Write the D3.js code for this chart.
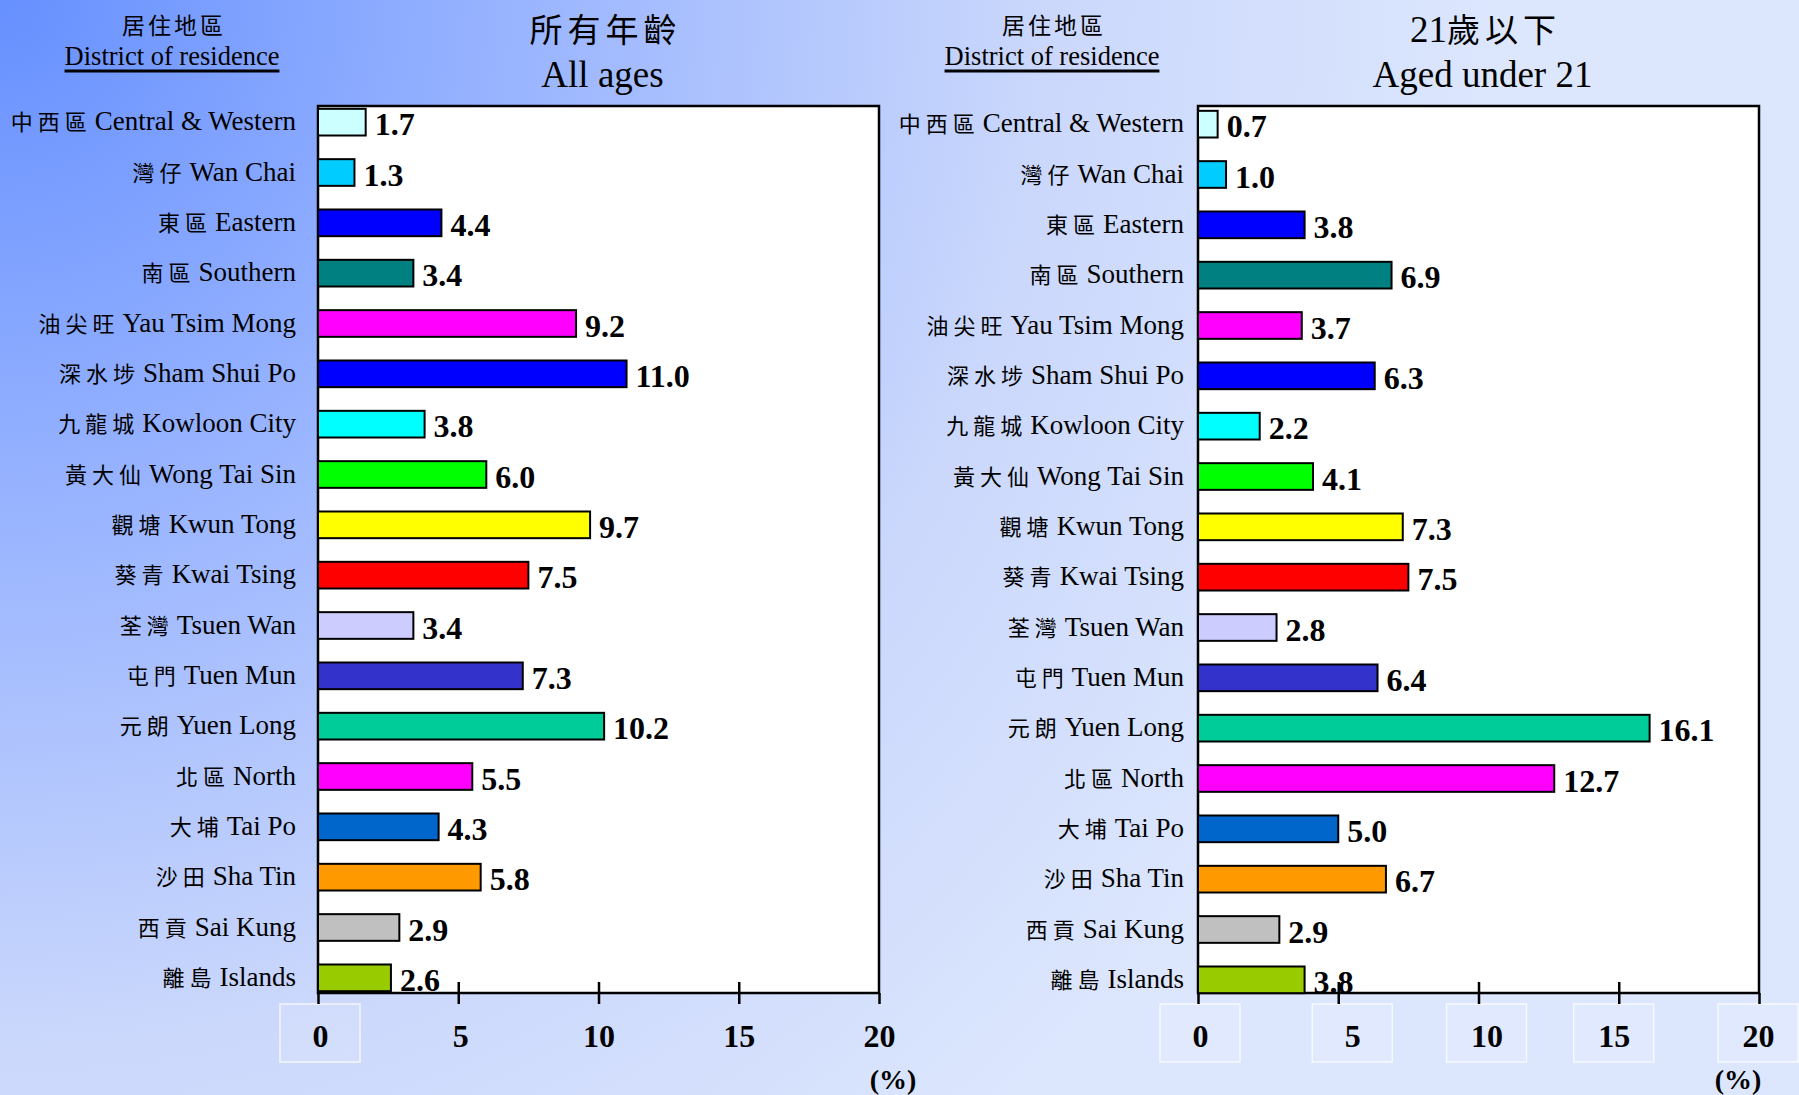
<!DOCTYPE html>
<html>
<head>
<meta charset="utf-8">
<script src="https://cdn.jsdelivr.net/npm/d3@7"></script>
<style>
  body { margin: 0; }
  svg { display: block; }
  .serif { font-family: "Liberation Serif", "Times New Roman", serif; }
</style>
</head>
<body>
<script>
// district names (Chinese / English)
const districtsZh = ["中西區", "灣仔", "東區", "南區", "油尖旺", "深水埗", "九龍城", "黃大仙", "觀塘",
                     "葵青", "荃灣", "屯門", "元朗", "北區", "大埔", "沙田", "西貢", "離島"];
const districtsEn = ["Central & Western", "Wan Chai", "Eastern", "Southern", "Yau Tsim Mong", "Sham Shui Po",
                     "Kowloon City", "Wong Tai Sin", "Kwun Tong", "Kwai Tsing", "Tsuen Wan", "Tuen Mun",
                     "Yuen Long", "North", "Tai Po", "Sha Tin", "Sai Kung", "Islands"];
const barColors = ["#ccffff", "#00ccff", "#0000ff", "#008080", "#ff00ff", "#0000ff", "#00ffff", "#00ff00", "#ffff00",
                   "#ff0000", "#ccccff", "#3333cc", "#00cc99", "#ff00ff", "#0066cc", "#ff9900", "#c0c0c0", "#99cc00"];

// percentage shares
const allAges =  [1.7, 1.3, 4.4, 3.4, 9.2, 11.0, 3.8, 6.0, 9.7, 7.5, 3.4, 7.3, 10.2, 5.5, 4.3, 5.8, 2.9, 2.6];
const under21 =  [0.7, 1.0, 3.8, 6.9, 3.7, 6.3, 2.2, 4.1, 7.3, 7.5, 2.8, 6.4, 16.1, 12.7, 5.0, 6.7, 2.9, 3.8];

const xTicks = [0, 5, 10, 15, 20];
const headerZh = "居住地區", headerEn = "District of residence";

const W = 1799, H = 1095;
const svg = d3.select("body").append("svg").attr("width", W).attr("height", H);

// background gradient
const defs = svg.append("defs");
const grad = defs.append("radialGradient").attr("id", "bg")
    .attr("gradientUnits", "userSpaceOnUse")
    .attr("cx", 0).attr("cy", 0).attr("r", 1500);
grad.append("stop").attr("offset", 0).attr("stop-color", "#6690ff");
grad.append("stop").attr("offset", 0.35).attr("stop-color", "#9ab5ff");
grad.append("stop").attr("offset", 0.7).attr("stop-color", "#cbd8fc");
grad.append("stop").attr("offset", 1).attr("stop-color", "#dce6fd");
svg.append("rect").attr("width", W).attr("height", H).attr("fill", "url(#bg)");

const data = districtsEn.map((en, i) => ({ en, zh: districtsZh[i], color: barColors[i] }));

function panel(opts) {
  const x = d3.scaleLinear().domain([0, 20]).range([opts.x0, opts.x1]);
  const y = d3.scaleBand().domain(districtsEn)
      .range([97 + opts.dy, 1003 + opts.dy]).paddingInner(0.47).paddingOuter(0.235);
  const top = 106, bottom = 993;
  const g = svg.append("g");

  // headers
  const hx = opts.headerX;
  g.append("text").attr("x", hx + 2).attr("y", 34).attr("text-anchor", "middle")
    .style("font-family", "Noto Sans CJK TC").style("font-size", "23px").style("letter-spacing", "3px")
    .text(headerZh);
  const en = g.append("text").attr("class", "serif").attr("x", hx).attr("y", 65).attr("text-anchor", "middle")
    .style("font-size", "26.5px").text(headerEn);
  const bb = en.node().getBBox();
  g.append("line").attr("x1", bb.x).attr("x2", bb.x + bb.width).attr("y1", 71).attr("y2", 71)
    .attr("stroke", "#000").attr("stroke-width", 3);

  const tx = (opts.x0 + opts.x1) / 2 + opts.titleShift;
  const t1 = g.append("text").attr("x", tx + 3).attr("y", 42).attr("text-anchor", "middle")
    .style("font-family", "Noto Sans CJK TC").style("font-size", "33px").style("letter-spacing", "5px");
  t1.append("tspan").attr("class", "serif").style("font-size", "37px").style("letter-spacing", "0px")
    .text(opts.titlePre);
  t1.append("tspan").text(opts.titleZh);
  g.append("text").attr("class", "serif").attr("x", tx).attr("y", 87).attr("text-anchor", "middle")
    .style("font-size", "37px").text(opts.titleEn);

  // plot box
  g.append("rect").attr("x", x(0)).attr("y", top).attr("width", x(20) - x(0)).attr("height", bottom - top)
    .attr("fill", "#fff").attr("stroke", "#000").attr("stroke-width", 2.5);

  // category labels
  const lab = g.selectAll(".cat").data(data).join("text")
    .attr("class", "serif cat")
    .attr("x", x(0) - opts.labelGap)
    .attr("y", d => y(d.en) + y.bandwidth() / 2 + 8)
    .attr("text-anchor", "end")
    .style("font-size", "27px");
  lab.append("tspan").style("font-family", "Noto Sans CJK TC").style("font-size", "22px")
    .style("letter-spacing", "5px").text(d => d.zh);
  lab.append("tspan").attr("dx", 3).text(d => d.en);

  // bars
  g.selectAll(".bar").data(data).join("rect")
    .attr("class", "bar")
    .attr("x", x(0))
    .attr("y", d => y(d.en))
    .attr("width", (d, i) => x(opts.values[i]) - x(0))
    .attr("height", y.bandwidth())
    .attr("fill", d => d.color)
    .attr("stroke", "#000").attr("stroke-width", 2);

  g.selectAll(".val").data(data).join("text")
    .attr("class", "serif val")
    .attr("x", (d, i) => x(opts.values[i]) + 9)
    .attr("y", d => y(d.en) + y.bandwidth() / 2 + 13)
    .style("font-size", "32px").style("font-weight", "bold")
    .text((d, i) => opts.values[i].toFixed(1));

  // faint boxes behind tick labels
  g.selectAll(".tbox").data(opts.boxTicks).join("rect")
    .attr("x", d => x(d) + opts.labelShift[xTicks.indexOf(d)] - 40).attr("y", 1004)
    .attr("width", 80).attr("height", 58)
    .attr("fill", "rgba(255,255,255,0.12)").attr("stroke", "rgba(255,255,255,0.75)").attr("stroke-width", 1.5);

  // x axis
  const ax = g.append("g").attr("transform", `translate(0,${bottom})`)
    .call(d3.axisBottom(x).tickValues(xTicks).tickSize(11).tickFormat(d3.format("d")));
  ax.select(".domain").remove();
  ax.selectAll(".tick line").attr("stroke", "#000").attr("stroke-width", 2.5)
    .attr("y1", d => (d === 0 || d === 20) ? 0 : -11);
  ax.selectAll(".tick text").attr("class", "serif").attr("y", 54).attr("dy", 0)
    .attr("x", d => opts.labelShift[xTicks.indexOf(d)])
    .attr("fill", "#000").style("font-size", "32px").style("font-weight", "bold");

  g.append("text").attr("class", "serif").attr("x", x(20) + opts.pctShift).attr("y", 1089).attr("text-anchor", "middle")
    .style("font-size", "28px").style("font-weight", "bold").text("(%)");
}

panel({ x0: 318, x1: 879, dy: 0, values: allAges, headerX: 172, labelGap: 22, titleShift: 4,
        titlePre: "", titleZh: "所有年齡", titleEn: "All ages", boxTicks: [0],
        labelShift: [2, 2, 0, 0, 0], pctShift: 14 });
panel({ x0: 1198, x1: 1759, dy: 2, values: under21, headerX: 1052, labelGap: 14, titleShift: 4,
        titlePre: "21", titleZh: "歲以下", titleEn: "Aged under 21", boxTicks: xTicks,
        labelShift: [2, 14, 8, -5, -1], pctShift: -21 });
</script>
</body>
</html>
